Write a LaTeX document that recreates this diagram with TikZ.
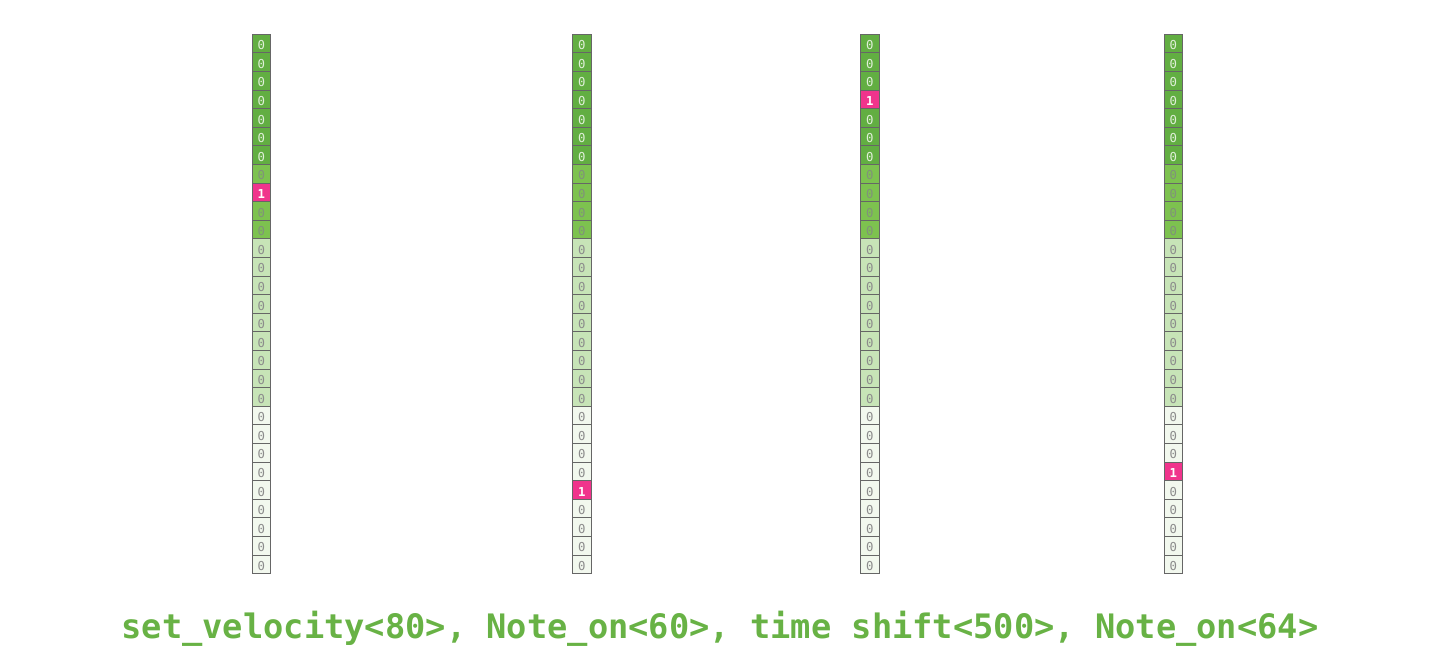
\documentclass[tikz,border=0pt]{standalone}
\usepackage{fontspec}
\setmonofont{DejaVu Sans Mono}
\usetikzlibrary{positioning}

\definecolor{gdark}{HTML}{62AE42}
\definecolor{gmid}{HTML}{7DC24F}
\definecolor{glight}{HTML}{C7E4B7}
\definecolor{gpale}{HTML}{F2F8EE}
\definecolor{hotpink}{HTML}{F0348C}
\definecolor{capgreen}{HTML}{68B245}
\definecolor{midtext}{HTML}{80927A}

\tikzset{
	cell/.style={draw=black!60, line width=1pt, minimum width=18.6pt, minimum height=18.6pt,
		inner sep=0pt, text height=12.2pt, text depth=0pt, text=black!45,
		font=\ttfamily\fontsize{12.3}{14}\selectfont},
	zdark/.style={fill=gdark, text=white!80!gdark},
	zmid/.style={fill=gmid, text=midtext},
	zlight/.style={fill=glight},
	zpale/.style={fill=gpale},
	hot/.style={fill=hotpink, text=white, font=\ttfamily\bfseries\fontsize{12.3}{14}\selectfont}
}

\begin{document}
\begin{tikzpicture}[x=1pt, y=-1pt]
		
		% --- 1. Frame ---
		\useasboundingbox (0,0) rectangle (1440,661);
		
		% --- 2. One-hot columns (column / centre x / row of the 1) ---
		\foreach \c/\xc/\h in {1/261.3/9, 2/581.8/25, 3/869.8/4, 4/1173.3/24} {
			\foreach \r in {1,...,29} {
				\ifnum\r<8 \def\sty{zdark}\else\ifnum\r<12 \def\sty{zmid}\else\ifnum\r<21 \def\sty{zlight}\else\def\sty{zpale}\fi\fi\fi
				\ifnum\r=\h \def\sty{hot}\def\v{1}\else\def\v{0}\fi
				\node[cell, \sty] (c\c-\r) at (\xc, {34.3+(\r-0.5)*18.6}) {\v};
			}
		}
		
		% --- 3. Event sequence ---
		\node[anchor=base, text=capgreen, font=\ttfamily\bfseries\fontsize{33.7}{40}\selectfont] (events) at (720,638)
		{set\_velocity<80>, Note\_on<60>, time shift<500>, Note\_on<64>};
		
	\end{tikzpicture}
\end{document}
